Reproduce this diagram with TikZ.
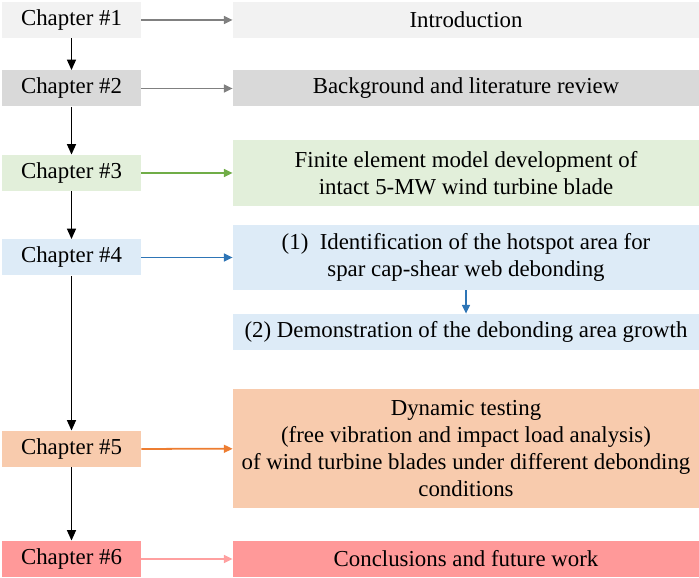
\documentclass[tikz,border=0pt]{standalone}
\usepackage{fontspec}
\setmainfont{Liberation Serif}
\definecolor{chgray}{RGB}{242,242,242}
\definecolor{chdark}{RGB}{217,217,217}
\definecolor{chgreen}{RGB}{226,239,218}
\definecolor{chblue}{RGB}{221,235,247}
\definecolor{chorange}{RGB}{248,203,173}
\definecolor{chred}{RGB}{255,153,153}
\definecolor{argray}{RGB}{128,128,128}
\definecolor{argreen}{RGB}{112,173,71}
\definecolor{arblue}{RGB}{46,117,182}
\definecolor{arorange}{RGB}{237,125,49}
\definecolor{arred}{RGB}{255,160,160}
\usetikzlibrary{arrows.meta,positioning}

\begin{document}
\begin{tikzpicture}[
    chap/.style={inner sep=0pt,minimum width=2.78cm,minimum height=0.72cm,
                 font=\fontsize{13}{15.5}\selectfont},
    desc/.style={inner sep=0pt,minimum width=9.32cm,minimum height=0.72cm,align=center,
                 font=\fontsize{13}{15.5}\selectfont},
    down/.style={-{Triangle[length=6pt,width=5pt]},line width=1.1pt,black},
    side/.style={-{Triangle[length=5pt,width=4.5pt]},line width=1pt}]
  \useasboundingbox (0,0) rectangle (13.98,-11.56);
  % chapters
  \node[chap,fill=chgray]   (c1) at (1.43,-0.40)  {Chapter \#1};
  \node[chap,fill=chdark]   (c2) at (1.43,-1.77)  {Chapter \#2};
  \node[chap,fill=chgreen]  (c3) at (1.43,-3.46)  {Chapter \#3};
  \node[chap,fill=chblue]   (c4) at (1.43,-5.15)  {Chapter \#4};
  \node[chap,fill=chorange] (c5) at (1.43,-8.98)  {Chapter \#5};
  \node[chap,fill=chred]    (c6) at (1.43,-11.18) {Chapter \#6};
  % contents
  \node[desc,fill=chgray]   (intro) at (9.32,-0.40) {Introduction};
  \node[desc,fill=chdark]   (back)  at (9.32,-1.77) {Background and literature review};
  \node[desc,fill=chgreen,minimum height=1.32cm] (fem) at (9.32,-3.46)
        {Finite element model development of\\intact 5-MW wind turbine blade};
  \node[desc,fill=chblue,minimum height=1.30cm] (hot) at (9.32,-5.15)
        {(1)~~Identification of the hotspot area for\\spar cap-shear web debonding};
  \node[desc,fill=chblue]   (demo)  at (9.32,-6.64) {(2) Demonstration of the debonding area growth};
  \node[desc,fill=chorange,minimum height=2.38cm] (dyn) at (9.32,-8.97)
        {Dynamic testing\\(free vibration and impact load analysis)\\of wind turbine blades under different debonding\\conditions};
  \node[desc,fill=chred]    (conc)  at (9.32,-11.18) {Conclusions and future work};
  % flow
  \draw[down] (c1) -- (c2);
  \draw[down] (c2) -- (c3);
  \draw[down] (c3) -- (c4);
  \draw[down] (c4) -- (c5);
  \draw[down] (c5) -- (c6);
  \draw[side,argray]   (c1) -- (intro);
  \draw[side,argray]   (c2) -- (back);
  \draw[side,argreen]  (c3) -- (fem);
  \draw[side,arblue]   (c4) -- (hot);
  \draw[side,arorange] (c5) -- (dyn);
  \draw[side,arred]    (c6) -- (conc);
  \draw[side,arblue]   (hot) -- (demo);
\end{tikzpicture}
\end{document}
